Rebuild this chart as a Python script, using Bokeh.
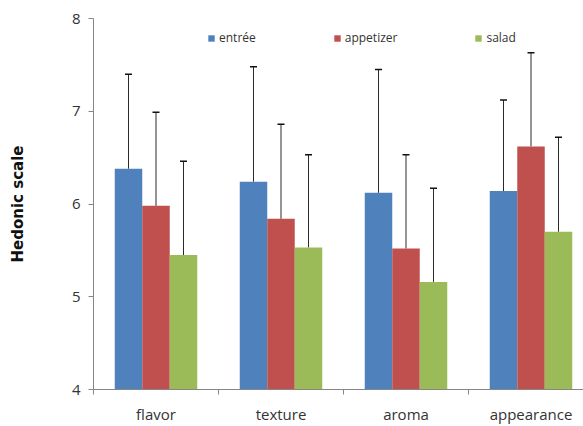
from bokeh.plotting import figure
from bokeh.models import ColumnDataSource, Range1d, FixedTicker, Whisker, TeeHead, Legend, LegendItem
from bokeh.embed import file_html
from bokeh.resources import INLINE

categories = ["flavor", "texture", "aroma", "appearance"]
series = ["entrée", "appetizer", "salad"]
entree = [6.38, 6.24, 6.12, 6.14]
appetizer = [5.98, 5.84, 5.52, 6.62]
salad = [5.45, 5.53, 5.16, 5.70]
entree_sd = [1.02, 1.24, 1.33, 0.98]
appetizer_sd = [1.01, 1.02, 1.01, 1.01]
salad_sd = [1.01, 1.00, 1.01, 1.02]
colors = ["#4F81BD", "#C0504D", "#9BBB59"]
y_ticks = [4, 5, 6, 7, 8]

W, H = 583, 426
p = figure(width=W, height=H, output_backend="svg", toolbar_location=None,
           x_range=Range1d(0, 3.92), y_range=Range1d(4, 8),
           min_border_left=93, min_border_right=0, min_border_top=18, min_border_bottom=37)
p.outline_line_color = None
p.xgrid.visible = False
p.ygrid.visible = False
p.background_fill_color = "white"
p.border_fill_color = "white"

bar_w = 0.22
offsets = [-bar_w, 0.0, bar_w]
means = [entree, appetizer, salad]
sds = [entree_sd, appetizer_sd, salad_sd]
renderers = []
for name, m, s, off, c in zip(series, means, sds, offsets, colors):
    xs = [i + 0.5 + off for i in range(len(categories))]
    src = ColumnDataSource(dict(x=xs, top=m, upper=[a + b for a, b in zip(m, s)]))
    r = p.vbar(x="x", top="top", bottom=4, width=bar_w, source=src,
               fill_color=c, line_color=None)
    renderers.append(r)
    w = Whisker(base="x", lower="top", upper="upper", source=src, dimension="height",
                line_color="#2a2a2a", line_width=1, lower_head=None,
                upper_head=TeeHead(size=7, line_color="#111111", line_width=1.5))
    p.add_layout(w)

legend = Legend(items=[LegendItem(label=n, renderers=[r]) for n, r in zip(series, renderers)],
                orientation="horizontal", location=(114, 343), spacing=77,
                glyph_width=8, glyph_height=8, label_standoff=4, padding=0, margin=0,
                border_line_color=None, background_fill_alpha=0,
                label_text_font="Open Sans", label_text_font_size="12px",
                label_text_color="#333333")
p.add_layout(legend)

# y axis
p.yaxis.ticker = FixedTicker(ticks=y_ticks)
p.yaxis.axis_line_color = "#868686"
p.yaxis.major_tick_line_color = "#868686"
p.yaxis.major_tick_out = 5
p.yaxis.major_tick_in = 0
p.yaxis.minor_tick_line_color = None
p.yaxis.major_label_text_font = "Open Sans"
p.yaxis.major_label_text_font_size = "15px"
p.yaxis.major_label_text_color = "#333333"
p.yaxis.major_label_standoff = 8
p.yaxis.axis_label = "Hedonic scale"
p.yaxis.axis_label_text_font = "DejaVu Sans"
p.yaxis.axis_label_text_font_style = "bold"
p.yaxis.axis_label_text_font_size = "15px"
p.yaxis.axis_label_text_color = "#111111"
p.yaxis.axis_label_standoff = 42

# x axis
p.xaxis.ticker = FixedTicker(ticks=[i + 0.5 for i in range(len(categories))],
                             minor_ticks=list(range(len(categories) + 1)))
p.xaxis.major_label_overrides = {i + 0.5: c for i, c in enumerate(categories)}
p.xaxis.axis_line_color = "#868686"
p.xaxis.major_tick_line_color = None
p.xaxis.minor_tick_line_color = "#868686"
p.xaxis.minor_tick_out = 5
p.xaxis.minor_tick_in = 0
p.xaxis.major_label_text_font = "Open Sans"
p.xaxis.major_label_text_font_size = "15px"
p.xaxis.major_label_text_color = "#333333"
p.xaxis.major_label_standoff = 8

open("out.html", "w").write(file_html(p, INLINE))
